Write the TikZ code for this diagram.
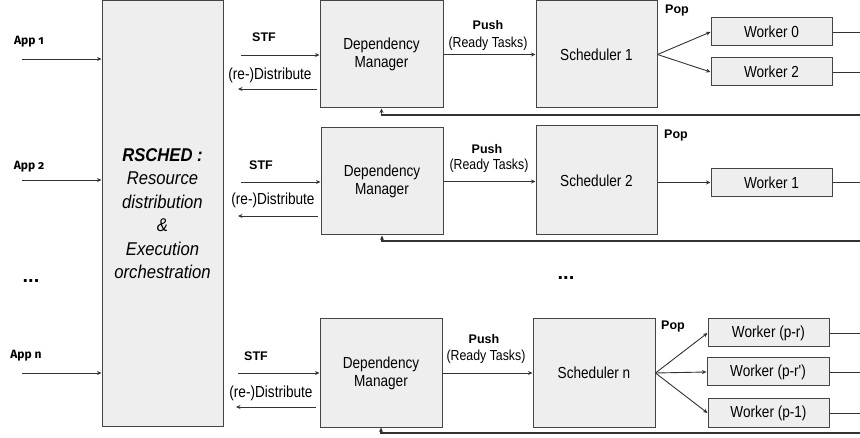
\documentclass[tikz,border=0pt]{standalone}
\usepackage{fontspec}
\setmainfont{Liberation Sans}
\newfontfamily\nar[FakeStretch=0.85]{Liberation Sans}
\newfontfamily\narit[FakeStretch=0.9]{Liberation Sans}
\newfontfamily\appfont[Numbers=OldStyle]{Fira Sans}
\usetikzlibrary{arrows.meta}
\definecolor{boxfill}{HTML}{EEEEEE}
\definecolor{boxline}{HTML}{444444}
\definecolor{conn}{HTML}{333333}
\tikzset{
  box/.style={draw=boxline, fill=boxfill, line width=1pt, inner sep=0pt, align=center,
    font=\nar\fontsize{16}{18}\selectfont},
  workerbox/.style={box, minimum width=121pt, minimum height=28pt},
  bigbox/.style={box, minimum width=122pt, minimum height=108pt},
  arr/.style={draw=conn, line width=0.9pt, -{Stealth[length=4.5pt,width=4pt]}},
  ln/.style={draw=conn, line width=0.9pt},
  ret/.style={draw=conn, line width=1.3pt, -{Stealth[length=4.5pt,width=4pt]}},
  blab/.style={inner sep=0pt, font=\bfseries\fontsize{12.5}{14}\selectfont},
  rlab/.style={inner sep=0pt, font=\nar\fontsize{16}{18}\selectfont},
  slab/.style={inner sep=0pt, font=\nar\fontsize{14.5}{16}\selectfont},
  applab/.style={inner sep=0pt, font=\appfont\bfseries\fontsize{12}{14}\selectfont},
  dots/.style={inner sep=0pt, font=\bfseries\fontsize{20}{22}\selectfont},
}
\begin{document}
\begin{tikzpicture}[x=1pt,y=-1pt]
\useasboundingbox (0,0) rectangle (860,438);
\coordinate (re) at (860,0);

% RSCHED box
\node[box, minimum width=121pt, minimum height=425pt,
  font=\narit\itshape\fontsize{18.5}{23.5}\selectfont] (R) at (162.5,213.5)
  {\bfseries RSCHED :\\Resource\\distribution\\\&\\Execution\\orchestration};

% app inputs
\node[applab] (app1) at (29,42) {App 1};
\node[applab] (app2) at (29,167) {App 2};
\node[applab] (appn) at (26,356) {App n};
\coordinate (a1) at (22,59);
\coordinate (a2) at (22,180);
\coordinate (an) at (22,373);
\draw[arr] (a1) -- (a1 -| R.west);
\draw[arr] (a2) -- (a2 -| R.west);
\draw[arr] (an) -- (an -| R.west);
\node[dots] (ldots) at (31,281) {...};
\node[dots] (mdots) at (566,278) {...};

% group 1
\node[bigbox, minimum width=123pt, minimum height=107pt] (D1) at (381.5,54.5) {Dependency\\Manager};
\node[bigbox, minimum width=121pt, minimum height=107pt] (S1) at (596.5,54.5) {Scheduler 1};
\node[workerbox] (W0) at (771.5,32) {Worker 0};
\node[workerbox] (W2) at (771.5,72) {Worker 2};
\node[blab] (stf1) at (264,37) {STF};
\node[rlab] (dis1) at (270,75) {(re-)Distribute};
\node[blab] (push1) at (488,25) {Push};
\node[slab] (rt1) at (488,44) {(Ready Tasks)};
\node[blab] (pop1) at (677,11) {Pop};
\coordinate (s1) at (241,55);
\coordinate (r1) at (238,89);
\draw[arr] (s1) -- (s1 -| D1.west);
\draw[arr] ([xshift=-3pt]r1 -| D1.west) -- (r1);
\draw[arr] (D1.east) -- (D1.east -| S1.west);
\draw[arr] (S1.east) -- (W0.west);
\draw[arr] (S1.east) -- (W2.west);
\draw[ln] (W0.east) -- (W0.east -| re);
\draw[ln] (W2.east) -- (W2.east -| re);
\coordinate (ret1) at (860,115);
\draw[ret] (ret1) -- (ret1 -| D1.south) -- (D1.south);

% group 2
\node[bigbox, minimum height=107pt] (D2) at (382,181.5) {Dependency\\Manager};
\node[bigbox, minimum width=121pt, minimum height=109pt] (S2) at (596.5,180.5) {Scheduler 2};
\node[workerbox] (W1) at (771.5,182.5) {Worker 1};
\node[blab] (stf2) at (261,165) {STF};
\node[rlab] (dis2) at (273,200) {(re-)Distribute};
\node[blab] (push2) at (487,149) {Push};
\node[slab] (rt2) at (489,166) {(Ready Tasks)};
\node[blab] (pop2) at (676,135) {Pop};
\coordinate (s2) at (241,182);
\coordinate (r2) at (238,216);
\draw[arr] (s2) -- (s2 -| D2.west);
\draw[arr] ([xshift=-3pt]r2 -| D2.west) -- (r2);
\draw[arr] (D2.east) -- (D2.east -| S2.west);
\draw[arr] (W1.west -| S2.east) -- (W1.west);
\draw[ln] (W1.east) -- (W1.east -| re);
\coordinate (ret2) at (860,241);
\draw[ret] (ret2) -- (ret2 -| D2.south) -- (D2.south);

% group n
\node[bigbox] (Dn) at (381,373) {Dependency\\Manager};
\node[bigbox] (Sn) at (594,373) {Scheduler n};
\node[workerbox] (Wa) at (768.5,333) {Worker (p-r)};
\node[workerbox, minimum width=122pt] (Wb) at (768,372) {Worker (p-r')};
\node[workerbox] (Wc) at (768.5,413) {Worker (p-1)};
\node[blab] (stfn) at (256,356) {STF};
\node[rlab] (disn) at (271,393) {(re-)Distribute};
\node[blab] (pushn) at (484,339) {Push};
\node[slab] (rtn) at (486,357) {(Ready Tasks)};
\node[blab] (popn) at (673,326) {Pop};
\coordinate (sn) at (238,373);
\coordinate (rn) at (236,407);
\draw[arr] (sn) -- (sn -| Dn.west);
\draw[arr] ([xshift=-4pt]rn -| Dn.west) -- (rn);
\draw[arr] (Dn.east) -- (Dn.east -| Sn.west);
\draw[arr] (Sn.east) -- (Wa.west);
\draw[arr] (Sn.east) -- (Wb.west);
\draw[arr] (Sn.east) -- (Wc.west);
\draw[ln] (Wa.east) -- (Wa.east -| re);
\draw[ln] (Wb.east) -- (Wb.east -| re);
\draw[ln] (Wc.east) -- (Wc.east -| re);
\coordinate (retn) at (860,433);
\draw[ret] (retn) -- (retn -| Dn.south) -- (Dn.south);
\end{tikzpicture}
\end{document}
